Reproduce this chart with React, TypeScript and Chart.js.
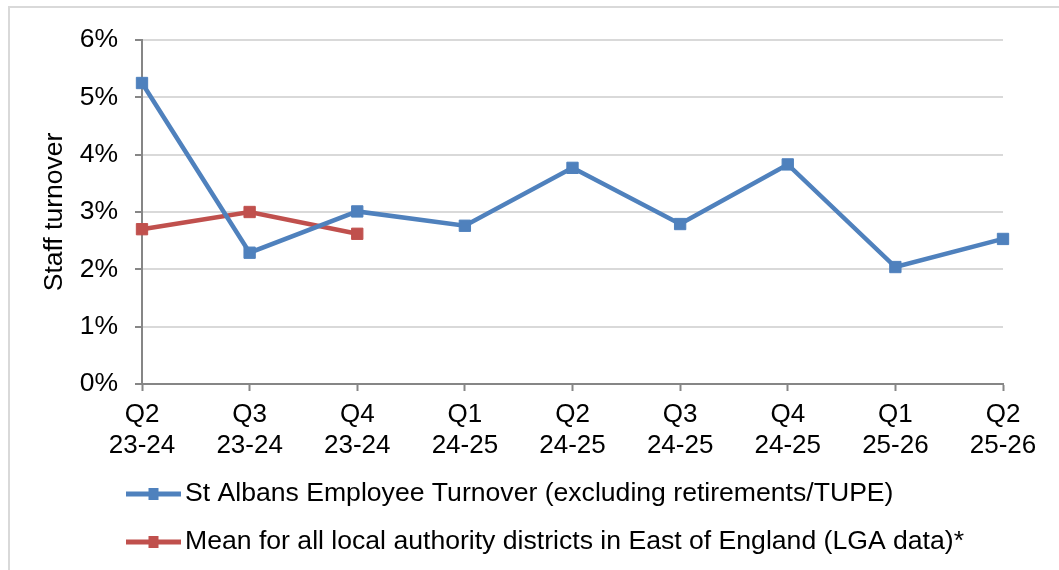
import React, { useEffect, useRef } from "react";
import { Chart, registerables } from "chart.js";

Chart.register(...registerables);

const categories: string[][] = [
  ["Q2", "23-24"],
  ["Q3", "23-24"],
  ["Q4", "23-24"],
  ["Q1", "24-25"],
  ["Q2", "24-25"],
  ["Q3", "24-25"],
  ["Q4", "24-25"],
  ["Q1", "25-26"],
  ["Q2", "25-26"],
];

const stAlbansTurnover: (number | null)[] = [5.25, 2.29, 3.01, 2.76, 3.77, 2.79, 3.83, 2.04, 2.53];
const lgaMean: (number | null)[] = [2.7, 3.0, 2.62, null, null, null, null, null, null];

const seriesLabels = [
  "St Albans Employee Turnover (excluding retirements/TUPE)",
  "Mean for all local authority districts in East of England (LGA data)*",
];
const seriesColors = ["#4f81bd", "#c0504d"];

const FONT = "'Liberation Sans', Arial, sans-serif";

const borderPlugin = {
  id: "outerBorder",
  beforeDraw(chart: any) {
    const ctx = chart.ctx;
    ctx.save();
    ctx.fillStyle = "#ffffff";
    ctx.fillRect(0, 0, chart.width, chart.height);
    ctx.strokeStyle = "#d9d9d9";
    ctx.lineWidth = 2;
    ctx.strokeRect(9, 7, chart.width + 20, chart.height + 20);
    ctx.restore();
  },
};

const legendPlugin = {
  id: "customLegend",
  afterDraw(chart: any) {
    const ctx = chart.ctx;
    const rows = [494, 542];
    ctx.save();
    chart.data.datasets.forEach((ds: any, i: number) => {
      const y = rows[i];
      ctx.strokeStyle = ds.borderColor;
      ctx.lineWidth = 5;
      ctx.beginPath();
      ctx.moveTo(126, y);
      ctx.lineTo(181, y);
      ctx.stroke();
      ctx.fillStyle = ds.borderColor;
      ctx.fillRect(148.5, y - 6, 10, 12);
      ctx.fillStyle = "#000000";
      ctx.font = `26.6px ${FONT}`;
      ctx.textBaseline = "middle";
      ctx.textAlign = "left";
      ctx.fillText(ds.label, 185, y);
    });
    ctx.restore();
  },
};

export default function App() {
  const ref = useRef<HTMLCanvasElement | null>(null);

  useEffect(() => {
    if (!ref.current) return;
    const chart = new Chart(ref.current, {
      type: "line",
      data: {
        labels: categories,
        datasets: [
          {
            label: seriesLabels[0],
            data: stAlbansTurnover,
            borderColor: seriesColors[0],
            backgroundColor: seriesColors[0],
            borderWidth: 4.5,
            pointStyle: "rect",
            pointRadius: 8,
            pointBorderWidth: 1,
            tension: 0,
          },
          {
            label: seriesLabels[1],
            data: lgaMean,
            borderColor: seriesColors[1],
            backgroundColor: seriesColors[1],
            borderWidth: 4.5,
            pointStyle: "rect",
            pointRadius: 8,
            pointBorderWidth: 1,
            tension: 0,
            spanGaps: false,
          },
        ],
      },
      options: {
        animation: false,
        responsive: false,
        maintainAspectRatio: false,
        layout: { padding: { top: 40, right: 56, bottom: 106, left: 0 } },
        plugins: {
          legend: { display: false },
          tooltip: { enabled: false },
        },
        scales: {
          x: {
            type: "category",
            offset: false,
            afterFit(scale: any) {
              scale.height = 80;
            },
            grid: {
              display: true,
              drawOnChartArea: false,
              drawTicks: true,
              tickLength: 7,
              tickColor: "#868686",
              tickWidth: 2,
            },
            border: { display: true, color: "#868686", width: 2 },
            ticks: {
              color: "#000000",
              padding: 8,
              maxRotation: 0,
              autoSkip: false,
              font: { family: FONT, size: 26, lineHeight: 1.2 },
            },
          },
          y: {
            min: 0,
            max: 6,
            afterFit(scale: any) {
              scale.width = 142;
            },
            grid: {
              color: "#d9d9d9",
              lineWidth: 2,
              drawTicks: true,
              tickLength: 7,
              tickColor: "#868686",
              tickWidth: 2,
            },
            border: { display: true, color: "#868686", width: 2 },
            ticks: {
              stepSize: 1,
              color: "#000000",
              padding: 17,
              font: { family: FONT, size: 26.5 },
              callback: (v: any) => `${v}%`,
            },
            title: {
              display: true,
              text: "Staff turnover",
              color: "#000000",
              padding: { top: 39, bottom: 0 },
              font: { family: FONT, size: 26.5, lineHeight: 1.2 },
            },
          },
        },
      },
      plugins: [borderPlugin, legendPlugin],
    });
    return () => chart.destroy();
  }, []);

  return (
    <div style={{ position: "fixed", left: 0, top: 0, width: 1059, height: 570 }}>
      <canvas ref={ref} width={1059} height={570} style={{ width: 1059, height: 570, display: "block" }} />
    </div>
  );
}
